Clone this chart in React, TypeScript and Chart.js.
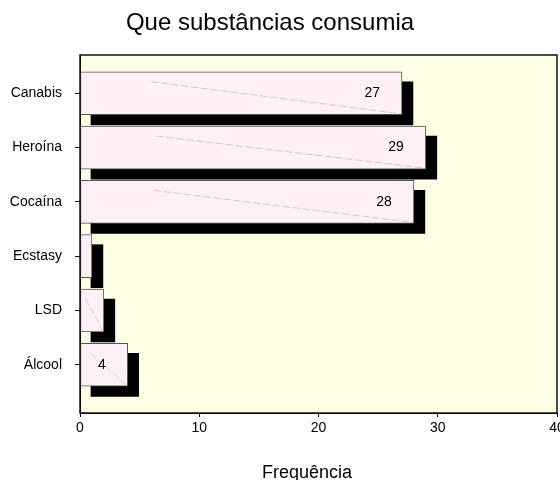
import { useEffect, useRef } from "react";
import { Chart, registerables } from "chart.js";

Chart.register(...registerables);

const categories = ["Canabis", "Heroína", "Cocaína", "Ecstasy", "LSD", "Álcool"];
const frequencies = [27, 29, 28, 1, 2, 4];
const xTicks = [0, 10, 20, 30, 40];
const chartTitle = "Que substâncias consumia";
const xAxisTitle = "Frequência";

const FONT = '"Liberation Sans", Arial, Helvetica, sans-serif';
const SHADOW_DX = 0.92; // shadow offset along the value axis
const SHADOW_DY = 0.185; // shadow offset along the category axis

export default function App() {
  const ref = useRef<HTMLCanvasElement>(null);

  useEffect(() => {
    const canvas = ref.current;
    if (!canvas) return;

    const plotFrame = {
      id: "plotFrame",
      beforeDraw(chart: any) {
        const { ctx, chartArea: a } = chart;
        ctx.save();
        ctx.fillStyle = "#FFFFE6";
        ctx.fillRect(a.left, a.top, a.width, a.height);
        ctx.restore();
      },
      afterDraw(chart: any) {
        const { ctx, chartArea: a } = chart;
        ctx.save();
        ctx.strokeStyle = "#111";
        ctx.lineWidth = 1.5;
        ctx.strokeRect(a.left, a.top, a.width, a.height);
        ctx.restore();
      },
    };

    const barDecor = {
      id: "barDecor",
      afterDatasetsDraw(chart: any) {
        const { ctx } = chart;
        const meta = chart.getDatasetMeta(0);
        ctx.save();
        meta.data.forEach((el: any, i: number) => {
          const { x, y, base, height } = el.getProps(["x", "y", "base", "height"], true);
          const left = Math.min(x, base);
          const right = Math.max(x, base);
          const w = right - left;
          const top = y - height / 2;
          const bottom = y + height / 2;
          if (w > 15) {
            ctx.strokeStyle = "rgba(160,140,150,0.55)";
            ctx.lineWidth = 0.8;
            ctx.setLineDash([7, 3]);
            ctx.beginPath();
            ctx.moveTo(left + 0.22 * w, top + 10);
            ctx.lineTo(right - 1, bottom - 1);
            ctx.stroke();
            ctx.setLineDash([]);
          }
          if (w > 30) {
            ctx.fillStyle = "#000";
            ctx.font = `14px ${FONT}`;
            ctx.textAlign = "right";
            ctx.textBaseline = "middle";
            ctx.fillText(String(frequencies[i]), right - 22, y);
          }
        });
        ctx.restore();
      },
    };

    const chart = new Chart(canvas, {
      type: "bar",
      data: {
        datasets: [
          {
            label: xAxisTitle,
            data: frequencies.map((v, i) => ({ x: v, y: i })),
            backgroundColor: "#FFF0F8",
            borderColor: "#555",
            borderWidth: 1,
            borderSkipped: false,
            stack: "bars",
            barThickness: 43,
          },
          {
            label: "sombra",
            data: frequencies.map((v, i) => ({ x: [SHADOW_DX, v + SHADOW_DX], y: i + SHADOW_DY })),
            backgroundColor: "#000",
            borderWidth: 0,
            stack: "bars",
            barThickness: 43,
          },
        ] as any,
      },
      options: {
        indexAxis: "y",
        responsive: false,
        animation: false,
        layout: { padding: { top: 55, right: 43, left: 0, bottom: 0 } },
        plugins: {
          legend: { display: false },
          tooltip: { enabled: false },
          title: { display: false },
        },
        scales: {
          x: {
            type: "linear",
            min: 0,
            max: 40,
            stacked: false,
            offset: false,
            afterBuildTicks: (s: any) => {
              s.ticks = xTicks.map((v) => ({ value: v }));
            },
            ticks: {
              color: "#000",
              font: { family: FONT, size: 14 },
              padding: 3,
              maxRotation: 0,
              autoSkip: false,
            },
            grid: { drawOnChartArea: false, drawTicks: true, tickLength: 4, color: "#000", offset: false },
            border: { color: "#000", width: 1 },
            afterFit: (s: any) => {
              s.height = 67;
            },
          },
          y: {
            type: "linear",
            reverse: true,
            min: -0.705,
            max: 5.888,
            offset: false,
            afterBuildTicks: (s: any) => {
              s.ticks = categories.map((_, i) => ({ value: i }));
            },
            ticks: {
              color: "#000",
              font: { family: FONT, size: 14 },
              padding: 13,
              autoSkip: false,
              callback: (v: any) => categories[v as number] ?? "",
            },
            grid: { drawOnChartArea: false, drawTicks: true, tickLength: 5, color: "#000", offset: false },
            border: { color: "#000", width: 1 },
            afterFit: (s: any) => {
              s.width = 80;
            },
          },
        },
      } as any,
      plugins: [plotFrame, barDecor],
    });

    return () => chart.destroy();
  }, []);

  return (
    <div
      style={{
        position: "absolute",
        left: 0,
        top: 0,
        width: 560,
        height: 480,
        overflow: "hidden",
        background: "#fff",
      }}
    >
      <canvas ref={ref} width={600} height={480} style={{ display: "block" }} />
      <div
        style={{
          position: "absolute",
          left: 0,
          top: 10,
          width: 540,
          textAlign: "center",
          font: `24px/24px ${FONT}`,
          color: "#000",
        }}
      >
        {chartTitle}
      </div>
      <div
        style={{
          position: "absolute",
          left: 207,
          top: 463,
          width: 200,
          textAlign: "center",
          font: `18px/18px ${FONT}`,
          color: "#000",
        }}
      >
        {xAxisTitle}
      </div>
    </div>
  );
}
